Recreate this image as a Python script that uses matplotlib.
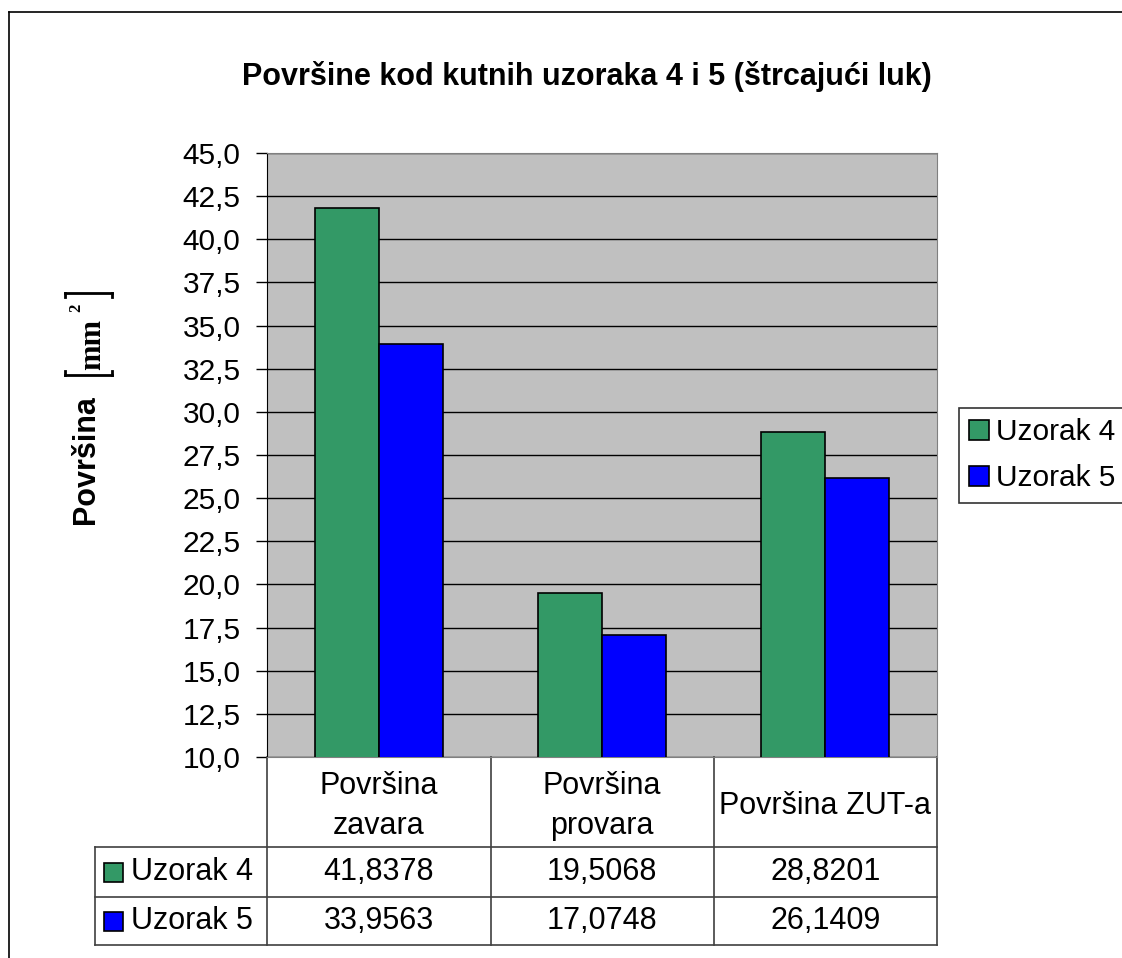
import numpy as np
import matplotlib.pyplot as plt
from matplotlib.patches import Rectangle
from matplotlib.lines import Line2D
from matplotlib.ticker import FuncFormatter, MultipleLocator

plt.rcParams['font.family'] = ['Liberation Sans', 'DejaVu Sans']

categories = ['Površina\nzavara', 'Površina\nprovara', 'Površina ZUT-a']
series_names = ['Uzorak 4', 'Uzorak 5']
uzorak4 = [41.8378, 19.5068, 28.8201]
uzorak5 = [33.9563, 17.0748, 26.1409]
value_labels = [['41,8378', '19,5068', '28,8201'],
                ['33,9563', '17,0748', '26,1409']]
colors = ['#339966', '#0000FF']

W, H = 1122, 958
fig = plt.figure(figsize=(W / 100, H / 100), dpi=100)
fig.patch.set_facecolor('white')


def fx(px):
    return px / W


def fy(py):
    return 1 - py / H


# outer chart frame (only left and top edges are inside the image)
fig.add_artist(Line2D([fx(9), fx(9)], [0, fy(12)], color='black', lw=1.2))
fig.add_artist(Line2D([fx(9), 1], [fy(12), fy(12)], color='black', lw=1.2))

left, right, top, bottom = 267, 937, 153, 757
ax = fig.add_axes([left / W, 1 - bottom / H, (right - left) / W, (bottom - top) / H])
ax.set_facecolor('#C0C0C0')

x = np.arange(len(categories))
w = 0.287
ax.bar(x - w / 2, uzorak4, w, color=colors[0], edgecolor='black', lw=1.2, zorder=3)
ax.bar(x + w / 2, uzorak5, w, color=colors[1], edgecolor='black', lw=1.2, zorder=3)

ax.set_xlim(-0.5, 2.5)
ax.set_ylim(10, 45)
ax.yaxis.set_major_locator(MultipleLocator(2.5))
ax.yaxis.set_major_formatter(FuncFormatter(lambda v, p: f'{v:.1f}'.replace('.', ',')))
ax.grid(axis='y', color='black', lw=1, zorder=1)
ax.set_axisbelow(True)
ax.tick_params(axis='y', length=8, width=1, pad=11, labelsize=21.5, direction='out')
ax.tick_params(axis='x', length=0, labelbottom=False)
ax.spines['left'].set_color('black')
for s in ['top', 'right', 'bottom']:
    ax.spines[s].set_color('#808080')


# data table below the plot, in axes coordinates
def ya(py):
    return (bottom - py) / (bottom - top)


def xa(px):
    return (px - left) / (right - left)


row_tops = [ya(847), ya(897), ya(945)]
col_edges = [xa(267), xa(491), xa(714), xa(937)]
tab_left = xa(95)
lc = dict(color='#404040', lw=1.2, transform=ax.transAxes, clip_on=False)
for yy in row_tops:
    ax.add_line(Line2D([tab_left, 1], [yy, yy], **lc))
ax.add_line(Line2D([tab_left, tab_left], [row_tops[0], row_tops[2]], **lc))
for cx in col_edges:
    ax.add_line(Line2D([cx, cx], [0, row_tops[2]], **lc))

fs = 22
for i, cat in enumerate(categories):
    ax.text(i, ya(806), cat, ha='center', va='center', fontsize=fs,
            linespacing=1.45, transform=ax.get_xaxis_transform())

row_centers = [ya(872), ya(921)]
for r, name in enumerate(series_names):
    yc = row_centers[r]
    ax.add_patch(Rectangle((xa(104), yc - 9.5 / 604), 19 / 670, 19 / 604,
                           facecolor=colors[r], edgecolor='black', lw=1.2,
                           transform=ax.transAxes, clip_on=False))
    ax.text(xa(131), yc, name, ha='left', va='center', fontsize=fs,
            transform=ax.transAxes)
    for i in range(len(categories)):
        ax.text(i, yc, value_labels[r][i], ha='center', va='center', fontsize=fs,
                transform=ax.get_xaxis_transform())

fig.text(fx(587), fy(76), 'Površine kod kutnih uzoraka 4 i 5 (štrcajući luk)',
         ha='center', va='center', fontsize=22, fontweight='bold')

# y axis title: bold word plus unit in square brackets
fig.text(fx(86), fy(460), 'Površina', rotation=90, ha='center', va='center',
         fontsize=22, fontweight='bold')
fig.text(fx(93), fy(344), 'mm', rotation=90, ha='center', va='center',
         fontsize=22, fontweight='bold', family='Liberation Serif')
fig.text(fx(76), fy(308), '2', rotation=90, ha='center', va='center',
         fontsize=12, fontweight='bold', family='Liberation Serif')
bk = dict(color='black', lw=2)
for ey, d in [(293, 4), (375, -4)]:
    fig.add_artist(Line2D([fx(65), fx(112)], [fy(ey), fy(ey)], **bk))
    fig.add_artist(Line2D([fx(65), fx(65)], [fy(ey), fy(ey + d)], **bk))
    fig.add_artist(Line2D([fx(112), fx(112)], [fy(ey), fy(ey + d)], **bk))

# legend box
handles = [Rectangle((0, 0), 1, 1, facecolor=c, edgecolor='black', lw=1.2) for c in colors]
leg = fig.legend(handles, series_names, loc='upper left',
                 bbox_to_anchor=(fx(959), fy(408)), fontsize=21.5,
                 handlelength=0.65, handleheight=0.65, handletextpad=0.25,
                 borderpad=0.35, labelspacing=0.6, frameon=True, fancybox=False,
                 borderaxespad=0)
leg.get_frame().set_edgecolor('black')
leg.get_frame().set_linewidth(1.2)

fig.savefig('out.png', dpi=100, facecolor='white')
